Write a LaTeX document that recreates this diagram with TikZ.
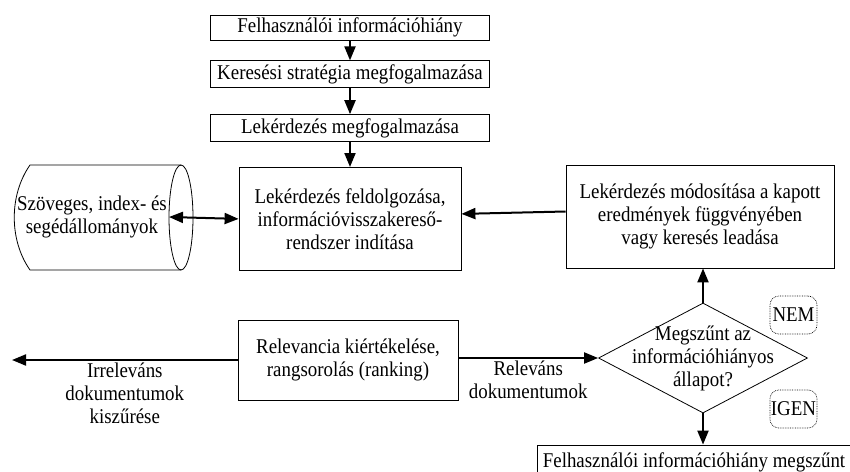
\documentclass[tikz,border=0pt]{standalone}
\usepackage{fontspec}
\setmainfont{Liberation Serif}[FakeStretch=0.9]
\usetikzlibrary{positioning,arrows.meta,shapes.geometric}
\newcommand{\fsz}{\fontsize{21}{23}\selectfont}

\begin{document}
\begin{tikzpicture}[x=1pt,y=-1pt,
  box/.style={draw,line width=0.8pt,font=\fsz,align=center,inner sep=1pt},
  lbl/.style={font=\fsz,align=center,inner sep=2pt},
  tag/.style={draw,densely dotted,line width=0.7pt,rounded corners=9pt,font=\fsz,minimum width=47pt,minimum height=38pt,inner sep=1pt},
  ar/.style={-{Triangle[length=14pt,width=11pt]},line width=2pt},
  dar/.style={{Triangle[length=14pt,width=11pt]}-{Triangle[length=14pt,width=11pt]},line width=2pt}]
\useasboundingbox (0,0) rectangle (850,471);
% spine
\node[box,minimum width=279pt,minimum height=25pt] (b1) at (350,27.5) {Felhasználói információhiány};
\node[box,minimum width=279pt,minimum height=27pt,below=20pt of b1] (b2) {Keresési stratégia megfogalmazása};
\node[box,minimum width=279pt,minimum height=27pt,below=26pt of b2] (b3) {Lekérdezés megfogalmazása};
\node[box,minimum width=222pt,minimum height=103pt,below=25pt of b3] (b4) {Lekérdezés feldolgozása,\\információvisszakereső-\\rendszer indítása};
\node[box,minimum width=268pt,minimum height=103pt] (rb) at (700,216.5) {Lekérdezés módosítása a kapott\\eredmények függvényében\\vagy keresés leadása};
\node[box,minimum width=220pt,minimum height=80pt] (b5) at (348,360) {Relevancia kiértékelése,\\rangsorolás (ranking)};
% decision
\node[draw,diamond,line width=0.8pt,minimum width=209pt,minimum height=110pt,inner sep=0pt] (dec) at (703,358) {};
\node[lbl] (dect) at (dec) {Megszűnt az\\információhiányos\\állapot?};
\node[tag] (nem) at (793.5,315) {NEM};
\node[tag] (igen) at (793.5,409) {IGEN};
\node[box,minimum width=314pt,minimum height=34pt] (fin) at (694,462) {Felhasználói információhiány megszűnt};
% files
\node[lbl] (db) at (92,217) {Szöveges, index- és\\segédállományok};
\draw[line width=0.8pt] (181,165) -- (30,165) .. controls (9,195) and (9,240) .. (30,270) -- (181,270);
\draw[line width=0.8pt] (181,217.5) ellipse (12pt and 52.5pt);
\coordinate (irr) at (12,360);
% connectors
\foreach \a/\b in {b1/b2,b2/b3,b3/b4}
  \draw[ar] (\a) -- (\b);
\draw[ar] ([yshift=5pt]rb.west) -- ([yshift=5pt]b4.east);
\draw[dar] (db.east) -- (b4.west);
\draw[ar] (dec.north) -- (dec.north |- rb.south);
\draw[ar] (dec.south) -- (dec.south |- fin.north);
\draw[ar] (b5.east |- dec.west) -- node[lbl,below] {Releváns\\dokumentumok} (dec.west);
\draw[ar] (b5.west) -- node[lbl,below] {Irreleváns\\dokumentumok\\kiszűrése} (irr);
\end{tikzpicture}
\end{document}
